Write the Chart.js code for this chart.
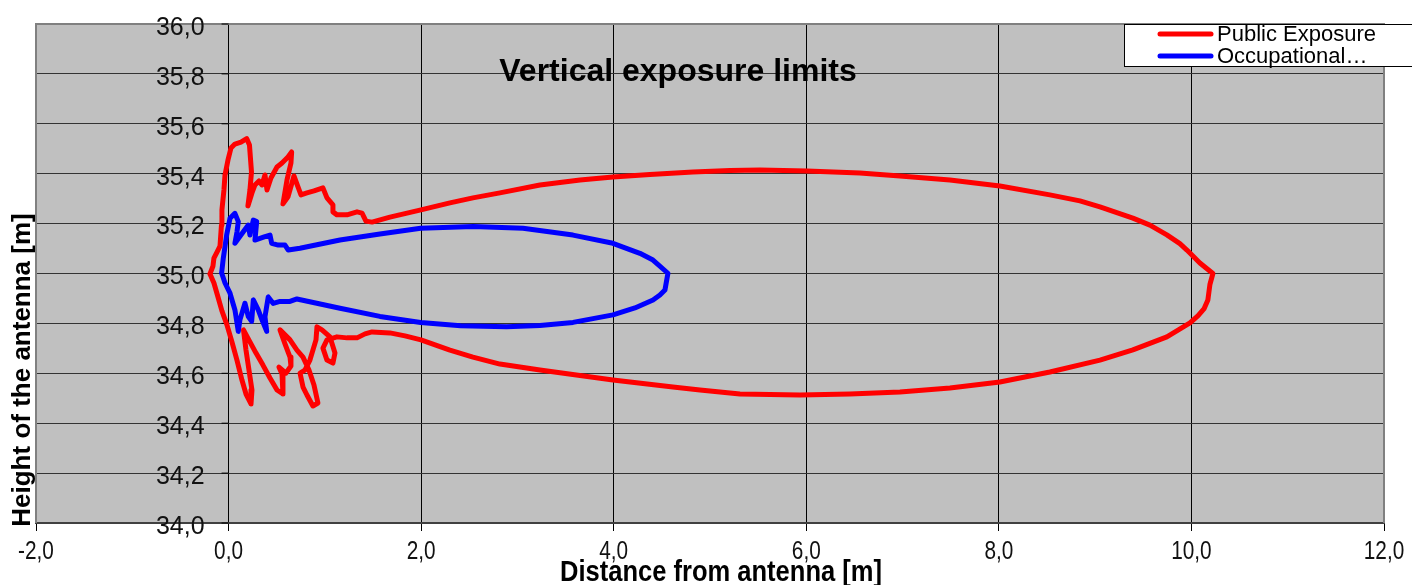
<!DOCTYPE html>
<html>
<head>
<meta charset="utf-8">
<title>Vertical exposure limits</title>
<script src="https://cdn.jsdelivr.net/npm/chart.js"></script>
<style>
  body { margin: 0; background: #fff; }
</style>
</head>
<body>
<canvas id="exposureChart" width="1412" height="585"></canvas>
<script>
// Public exposure boundary: distance from antenna [m] / height [m]
const publicX = [-0.193, -0.162, -0.152, -0.120, -0.089, -0.074, -0.069, -0.048, -0.037, -0.006,
  0.025, 0.066, 0.129, 0.188, 0.217, 0.238, 0.222, 0.201, 0.243, 0.274, 0.316, 0.347, 0.378, 0.399,
  0.440, 0.503, 0.555, 0.617, 0.655, 0.648, 0.607, 0.565, 0.617, 0.679, 0.721, 0.752, 0.814, 0.887,
  0.980, 1.022, 1.084, 1.084, 1.126, 1.230, 1.334, 1.386, 1.427, 1.490, 1.676,
  1.998, 2.299, 2.538, 2.818, 3.234, 3.650, 3.992, 4.376, 4.823, 5.207, 5.519, 6.007, 6.557, 6.973,
  7.492, 8.011, 8.530, 8.842, 9.050, 9.392, 9.569, 9.745, 9.880, 9.953, 10.088, 10.223,
  10.192, 10.171, 10.130, 10.067, 9.985, 9.745, 9.392, 9.050, 8.530, 8.011, 7.492, 6.973, 6.453, 5.934,
  5.311, 4.896, 4.615, 3.992, 3.650, 3.234, 2.818, 2.538, 2.299, 1.998, 1.832, 1.676, 1.490, 1.417,
  1.334, 1.230, 1.126,
  1.022, 0.980, 1.022, 1.084, 1.105, 1.053, 0.970, 0.918, 0.908, 0.845, 0.793, 0.742, 0.773, 0.814,
  0.876, 0.928, 0.887, 0.835, 0.773, 0.710, 0.638, 0.534, 0.586, 0.638, 0.648, 0.596, 0.523, 0.555,
  0.565, 0.503, 0.430, 0.357, 0.285, 0.212, 0.155, 0.181, 0.212, 0.243, 0.233, 0.181, 0.139, 0.087,
  0.035, -0.017, -0.069, -0.110, -0.152, -0.193];
const publicY = [34.998, 35.030, 35.062, 35.086, 35.110, 35.194, 35.255, 35.335, 35.395, 35.455,
  35.503, 35.519, 35.527, 35.541, 35.515, 35.407, 35.335, 35.271, 35.323, 35.355, 35.371, 35.355, 35.395, 35.335,
  35.383, 35.427, 35.443, 35.467, 35.487, 35.443, 35.375, 35.279, 35.307, 35.391, 35.347, 35.315, 35.323, 35.331,
  35.343, 35.303, 35.275, 35.247, 35.235, 35.235, 35.247, 35.242, 35.210, 35.206, 35.226,
  35.255, 35.283, 35.303, 35.323, 35.355, 35.375, 35.387, 35.397, 35.407, 35.413, 35.415, 35.411, 35.403, 35.391,
  35.375, 35.351, 35.315, 35.291, 35.267, 35.222, 35.194, 35.155, 35.120, 35.094, 35.042, 35.000,
  34.956, 34.894, 34.858, 34.830, 34.802, 34.746, 34.694, 34.653, 34.605, 34.565, 34.541, 34.525, 34.517, 34.513,
  34.517, 34.533, 34.545, 34.573, 34.591, 34.613, 34.637, 34.665, 34.693, 34.734, 34.750, 34.762, 34.766, 34.758,
  34.742, 34.742, 34.746,
  34.734, 34.701, 34.653, 34.641, 34.681, 34.746, 34.774, 34.786, 34.734, 34.653, 34.613, 34.601, 34.545, 34.513,
  34.469, 34.481, 34.553, 34.613, 34.665, 34.693, 34.734, 34.774, 34.718, 34.665, 34.629, 34.601, 34.625, 34.597,
  34.517, 34.533, 34.581, 34.633, 34.681, 34.733, 34.774, 34.693, 34.613, 34.533, 34.477, 34.517, 34.573, 34.653,
  34.726, 34.794, 34.850, 34.906, 34.962, 34.998];

// Occupational exposure boundary
const occupX = [-0.072, -0.055, -0.020, 0.015, 0.066, 0.101, 0.087, 0.066, 0.153, 0.205, 0.222, 0.257,
  0.292, 0.274, 0.326, 0.378, 0.430, 0.448, 0.516, 0.586, 0.620, 0.741, 1.157, 1.572, 1.995, 2.541, 3.058,
  3.577, 3.992, 4.272, 4.408, 4.563, 4.532, 4.480, 4.408, 4.220, 3.992, 3.577, 3.234, 2.888, 2.410, 1.995,
  1.572, 1.157, 0.710, 0.638,
  0.534, 0.464, 0.412, 0.378, 0.396, 0.347, 0.308, 0.257, 0.240, 0.205, 0.170, 0.118, 0.101, 0.066,
  0.015, -0.037, -0.072];
const occupY = [35.002, 35.061, 35.154, 35.221, 35.241, 35.208, 35.166, 35.121, 35.167, 35.194, 35.154, 35.214,
  35.208, 35.134, 35.141, 35.148, 35.154, 35.121, 35.114, 35.114, 35.094, 35.101, 35.134, 35.158, 35.181, 35.188, 35.181,
  35.154, 35.121, 35.081, 35.054, 35.001, 34.934, 34.914, 34.894, 34.862, 34.834, 34.804, 34.792, 34.787, 34.791, 34.804,
  34.828, 34.861, 34.898, 34.888,
  34.888, 34.880, 34.906, 34.826, 34.768, 34.814, 34.854, 34.894, 34.808, 34.827, 34.881, 34.814, 34.768, 34.854,
  34.921, 34.962, 35.002];

const seriesNames = ['Public Exposure', 'Occupational…'];
const seriesColors = ['#ff0000', '#0000ff'];
const chartTitle = 'Vertical exposure limits';
const xTitle = 'Distance from antenna [m]';
const yTitle = 'Height of the antenna [m]';

const FONT = "'Liberation Sans', Arial, sans-serif";
const fmt = v => v.toFixed(1).replace('.', ',');
const toPoints = (xs, ys) => xs.map((x, i) => ({ x: x, y: ys[i] }));

// condensed text, like the narrow axis font of the original
function narrowText(ctx, text, x, y, squeeze) {
  ctx.save();
  ctx.translate(x, y);
  ctx.scale(squeeze, 1);
  ctx.fillText(text, 0, 0);
  ctx.restore();
}

// plot background, frame, axis labels, titles and legend
const decor = {
  id: 'decor',
  beforeDraw(chart) {
    const { ctx, chartArea: a } = chart;
    ctx.save();
    ctx.fillStyle = '#c0c0c0';
    ctx.fillRect(a.left, a.top, a.right - a.left, a.bottom - a.top);
    ctx.restore();
  },
  beforeDatasetsDraw(chart) {
    const { ctx, chartArea: a, scales } = chart;
    const x0 = scales.x.getPixelForValue(0);
    ctx.save();
    ctx.strokeStyle = '#808080';
    ctx.lineWidth = 2;
    ctx.beginPath();
    ctx.moveTo(a.left, a.bottom);
    ctx.lineTo(a.left, a.top);
    ctx.lineTo(a.right, a.top);
    ctx.lineTo(a.right, a.bottom);
    ctx.stroke();

    // y axis sits on x = 0
    ctx.strokeStyle = '#000';
    ctx.lineWidth = 1;
    ctx.fillStyle = '#111';
    ctx.font = '25px ' + FONT;
    ctx.textAlign = 'right';
    ctx.textBaseline = 'middle';
    scales.y.ticks.forEach(t => {
      const py = scales.y.getPixelForValue(t.value);
      ctx.beginPath();
      ctx.moveTo(x0 - 7, py);
      ctx.lineTo(x0, py);
      ctx.stroke();
      ctx.fillText(fmt(t.value), x0 - 24, py + 4);
    });

    // x tick labels
    ctx.textAlign = 'center';
    ctx.font = '26px ' + FONT;
    scales.x.ticks.forEach(t => {
      narrowText(ctx, fmt(t.value), scales.x.getPixelForValue(t.value), a.bottom + 29, 0.8);
    });
    ctx.restore();
  },
  afterDraw(chart) {
    const { ctx } = chart;
    ctx.save();
    ctx.fillStyle = '#000';
    ctx.textAlign = 'center';
    ctx.textBaseline = 'middle';
    ctx.font = 'bold 32px ' + FONT;
    ctx.fillText(chartTitle, 678, 72);
    ctx.font = 'bold 29px ' + FONT;
    narrowText(ctx, xTitle, 721, 573, 0.88);
    ctx.font = 'bold 26px ' + FONT;
    ctx.translate(23, 370);
    ctx.rotate(-Math.PI / 2);
    ctx.fillText(yTitle, 0, 0);
    ctx.restore();

    // legend
    ctx.save();
    ctx.fillStyle = '#fff';
    ctx.fillRect(1124, 24, 300, 43);
    ctx.strokeStyle = '#000';
    ctx.lineWidth = 1;
    ctx.strokeRect(1124.5, 24.5, 300, 42);
    ctx.font = '22px ' + FONT;
    ctx.textAlign = 'left';
    ctx.textBaseline = 'middle';
    seriesNames.forEach((name, i) => {
      const ly = 34 + i * 22;
      ctx.strokeStyle = seriesColors[i];
      ctx.lineWidth = 5;
      ctx.lineCap = 'round';
      ctx.beginPath();
      ctx.moveTo(1160, ly);
      ctx.lineTo(1211, ly);
      ctx.stroke();
      ctx.fillStyle = '#000';
      ctx.fillText(name, 1217, ly + 1);
    });
    ctx.restore();
  }
};

new Chart(document.getElementById('exposureChart'), {
  type: 'scatter',
  data: {
    datasets: [
      { label: seriesNames[0], data: toPoints(publicX, publicY), borderColor: seriesColors[0] },
      { label: seriesNames[1], data: toPoints(occupX, occupY), borderColor: seriesColors[1] }
    ]
  },
  options: {
    responsive: false,
    animation: false,
    devicePixelRatio: 1,
    layout: { padding: { left: 36, right: 28, top: 24, bottom: 0 } },
    elements: {
      line: { borderWidth: 5, tension: 0, borderJoinStyle: 'round', borderCapStyle: 'round', fill: false },
      point: { radius: 0, hoverRadius: 0 }
    },
    datasets: { scatter: { showLine: true } },
    plugins: { legend: { display: false }, title: { display: false }, tooltip: { enabled: false } },
    scales: {
      x: {
        type: 'linear', min: -2, max: 12,
        ticks: { stepSize: 2, display: false },
        grid: { color: '#000', lineWidth: 1, tickLength: 8 },
        border: { color: '#404040', width: 2 },
        afterFit: s => { s.height = 62; }
      },
      y: {
        type: 'linear', min: 34, max: 36,
        ticks: { stepSize: 0.2, display: false },
        grid: { color: '#333', lineWidth: 1, drawTicks: false },
        border: { display: false },
        afterFit: s => { s.width = 0; }
      }
    }
  },
  plugins: [decor]
});
</script>
</body>
</html>
